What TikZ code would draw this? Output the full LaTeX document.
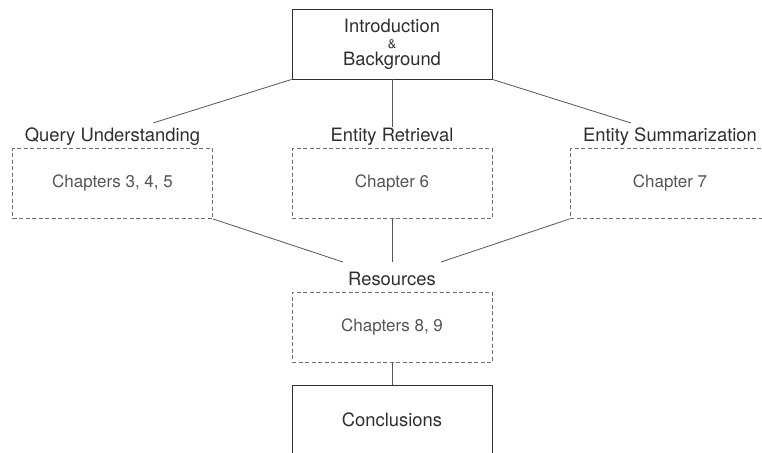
\documentclass[tikz,border=0pt]{standalone}
\usepackage{fontspec}
\setmainfont{TeX Gyre Heros}
\definecolor{inkgray}{HTML}{2E2E2E}
\definecolor{chapgray}{HTML}{555555}
\definecolor{linegray}{HTML}{555555}
\definecolor{dashgray}{HTML}{707070}

\begin{document}
\begin{tikzpicture}[x=1pt,y=-1pt,
  partbox/.style={draw=inkgray,line width=0.9pt,minimum width=200pt,minimum height=70pt,inner sep=0pt},
  chapbox/.style={draw=dashgray,dash pattern=on 4pt off 2.5pt,line width=0.9pt,minimum width=200pt,minimum height=70pt,inner sep=0pt,text=chapgray,font=\fontsize{17}{20}\selectfont},
  partlabel/.style={anchor=base,inner sep=0pt,text=inkgray,font=\fontsize{18.4}{22}\selectfont},
  link/.style={draw=linegray,line width=0.8pt}]
  \useasboundingbox (0,0) rectangle (762,452);
  \clip (0,0) rectangle (762,452);
  \node[partbox,align=center,text=inkgray,font=\fontsize{18.4}{16.5}\selectfont] (intro) at (392,44)
    {Introduction\\{\fontsize{12.5}{16.5}\selectfont\&}\\Background};
  \node[partlabel] (query) at (112.5,141) {Query Understanding};
  \node[partlabel] (retrieval) at (392,141) {Entity Retrieval};
  \node[partlabel] (summ) at (670,141) {Entity Summarization};
  \node[chapbox] (ch345) at (112.5,183.5) {Chapters 3, 4, 5};
  \node[chapbox] (ch6) at (392,183.5) {Chapter 6};
  \node[chapbox] (ch7) at (670,183.5) {Chapter 7};
  \node[partlabel] (resources) at (392,285) {Resources};
  \node[chapbox] (ch89) at (392,327) {Chapters 8, 9};
  \node[partbox,text=inkgray,font=\fontsize{18.4}{22}\selectfont] (concl) at (392,420) {Conclusions};
  % free ends of the links
  \coordinate (qtop) at (153,123);
  \coordinate (rtop) at (392,127);
  \coordinate (stop) at (631,123);
  \coordinate (resl) at (343,262);
  \coordinate (resm) at (392,262);
  \coordinate (resr) at (441,262);
  \draw[link] (intro.south west) -- (qtop);
  \draw[link] (intro.south) -- (rtop);
  \draw[link] (intro.south east) -- (stop);
  \draw[link] (ch345.south east) -- (resl);
  \draw[link] (ch6.south) -- (resm);
  \draw[link] (ch7.south west) -- (resr);
  \draw[link] (ch89.south) -- (concl.north);
\end{tikzpicture}
\end{document}
